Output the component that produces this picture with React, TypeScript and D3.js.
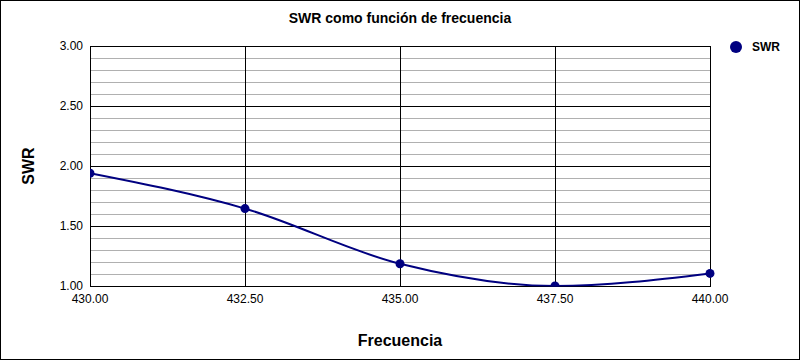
import React from "react";
import * as d3 from "d3";

const frequencies = [430, 432.5, 435, 437.5, 440];
const swrValues = [1.94, 1.645, 1.185, 1.0, 1.105];
const xTicks = [430, 432.5, 435, 437.5, 440];
const yMajorTicks = [1.0, 1.5, 2.0, 2.5, 3.0];
const yMinorTicks = d3.range(1.1, 3.0, 0.1).map((v) => +v.toFixed(2));
const seriesName = "SWR";
const chartTitle = "SWR como función de frecuencia";
const xTitle = "Frecuencia";
const yTitle = "SWR";

const W = 800;
const H = 360;
const m = { left: 90, right: 90, top: 46, bottom: 74 };
const font = "'Liberation Sans', Arial, sans-serif";
const color = "#000080";

export default function App() {
  const x = d3.scaleLinear().domain([430, 440]).range([m.left, W - m.right]);
  const y = d3.scaleLinear().domain([1, 3]).range([H - m.bottom, m.top]);
  const data = frequencies.map((f, i) => ({ f, v: swrValues[i] }));
  const line = d3
    .line<{ f: number; v: number }>()
    .x((d) => x(d.f))
    .y((d) => y(d.v))
    .curve(d3.curveMonotoneX);

  const x0 = m.left;
  const x1 = W - m.right;
  const y0 = m.top;
  const y1 = H - m.bottom;

  return (
    <svg
      width={W}
      height={H}
      style={{ position: "absolute", left: 0, top: 0, background: "#fff" }}
      fontFamily={font}
    >
      <rect x={0.5} y={0.5} width={W - 1} height={H - 1} fill="#fff" stroke="#000" />
      <defs>
        <clipPath id="plotclip">
          <rect x={x0} y={y0 - 6} width={x1 - x0 + 6} height={y1 - y0 + 6.5} />
        </clipPath>
      </defs>
      {yMinorTicks.map((t) => (
        <line key={"mn" + t} x1={x0} x2={x1} y1={Math.round(y(t)) + 0.5} y2={Math.round(y(t)) + 0.5} stroke="#b0b0b0" />
      ))}
      {yMajorTicks.map((t) => (
        <line key={"mj" + t} x1={x0} x2={x1} y1={Math.round(y(t)) + 0.5} y2={Math.round(y(t)) + 0.5} stroke="#000" />
      ))}
      {xTicks.map((t) => (
        <line key={"vx" + t} x1={Math.round(x(t)) + 0.5} x2={Math.round(x(t)) + 0.5} y1={y0} y2={y1} stroke="#000" />
      ))}
      <rect x={x0 + 0.5} y={y0 + 0.5} width={x1 - x0} height={y1 - y0} fill="none" stroke="#000" />
      {yMajorTicks.map((t) => (
        <text key={"yl" + t} x={83} y={y(t)} dy="0.35em" textAnchor="end" fontSize={12} fill="#000">
          {t.toFixed(2)}
        </text>
      ))}
      {xTicks.map((t) => (
        <text key={"xl" + t} x={x(t)} y={303} textAnchor="middle" fontSize={12} fill="#000">
          {t.toFixed(2)}
        </text>
      ))}
      <g clipPath="url(#plotclip)">
        <path d={line(data) || ""} fill="none" stroke={color} strokeWidth={2} />
        {data.map((d) => (
          <circle key={d.f} cx={x(d.f)} cy={y(d.v)} r={4.5} fill={color} />
        ))}
      </g>
      <text x={400} y={23} textAnchor="middle" fontSize={14} fontWeight="bold" fill="#000">
        {chartTitle}
      </text>
      <text x={400} y={346} textAnchor="middle" fontSize={16} fontWeight="bold" fill="#000">
        {xTitle}
      </text>
      <text
        transform={`translate(34, ${(y0 + y1) / 2}) rotate(-90)`}
        textAnchor="middle"
        fontSize={16}
        fontWeight="bold"
        fill="#000"
      >
        {yTitle}
      </text>
      <circle cx={736} cy={47} r={6} fill={color} />
      <text x={752} y={47} dy="0.35em" fontSize={12} fontWeight="bold" fill="#000">
        {seriesName}
      </text>
    </svg>
  );
}
